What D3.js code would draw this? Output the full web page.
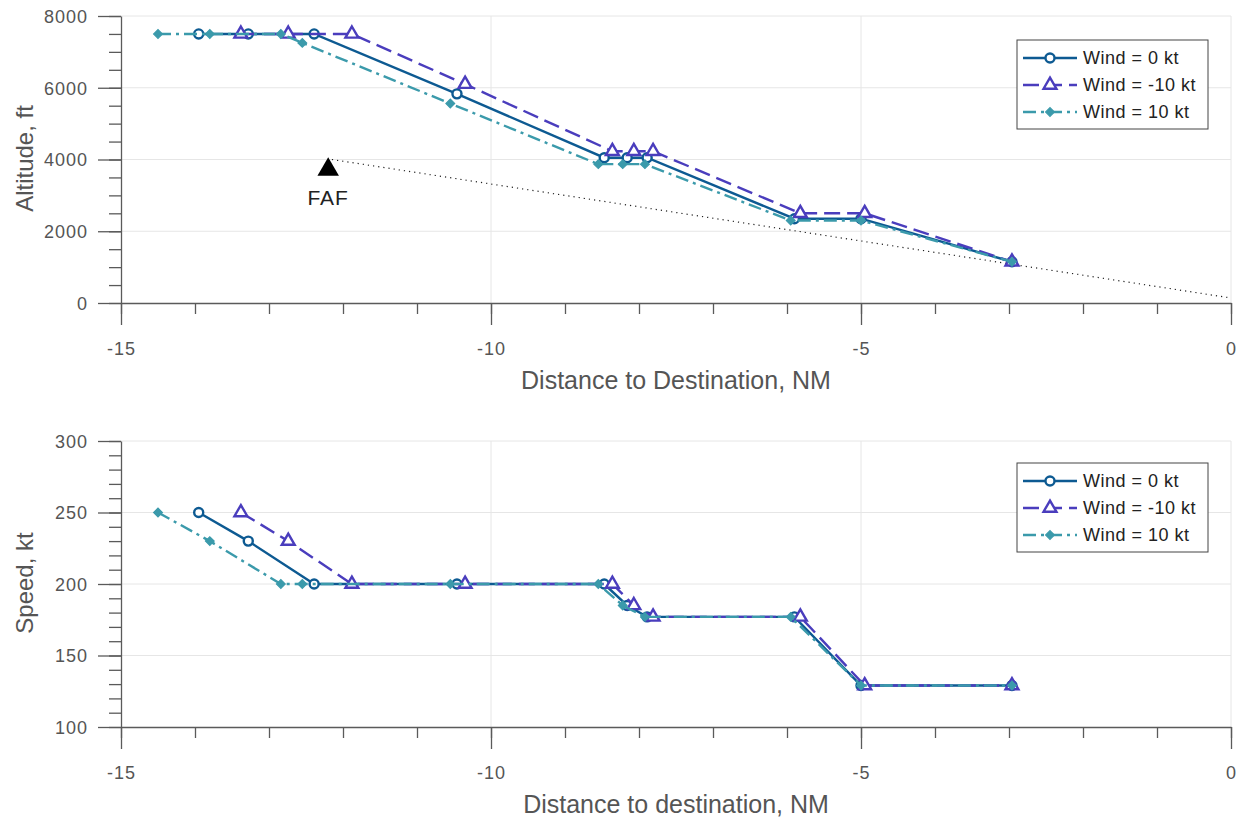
<!DOCTYPE html>
<html>
<head lang="en">
  <meta charset="UTF-8">
  <title>Altitude and speed profiles</title>
  <script src="https://cdn.jsdelivr.net/npm/d3@7"></script>
</head>
<style>
  body { margin: 0; background: #fff; }
  svg text { font-family: "Liberation Sans", Arial, sans-serif; }
  .axis path, .axis line { stroke: #5a5a5a; stroke-width: 1.3; }
  .axis text { fill: #555; font-size: 18px; letter-spacing: 1px; }
  .grid line { stroke: #e6e6e6; stroke-width: 1; }
  .title { fill: #555; }
</style>
<body>
<svg id="chart" width="1239" height="820"></svg>
<script>
  // Distance to destination, NM
  var dist0   = [-13.95, -13.28, -12.39, -10.46, -8.47, -8.16, -7.89, -5.90, -5.00, -2.96];
  var distM10 = [-13.38, -12.74, -11.88, -10.35, -8.36, -8.07, -7.81, -5.82, -4.95, -2.96];
  var dist10  = [-14.50, -13.80, -12.84, -12.55, -10.55, -8.55, -8.22, -7.92, -5.95, -5.00, -2.96];

  // Altitude, ft
  var alt0   = [7500, 7500, 7500, 5830, 4050, 4050, 4050, 2350, 2350, 1150];
  var altM10 = [7500, 7500, 7500, 6100, 4230, 4230, 4230, 2500, 2500, 1150];
  var alt10  = [7500, 7500, 7500, 7250, 5560, 3870, 3870, 3870, 2300, 2300, 1150];

  // Speed, kt
  var spd0   = [250, 230, 200, 200, 200, 185, 177, 177, 129, 129];
  var spdM10 = [250, 230, 200, 200, 200, 185, 177, 177, 129, 129];
  var spd10  = [250, 230, 200, 200, 200, 200, 185, 177, 177, 129, 129];

  var seriesNames = ['Wind = 0 kt', 'Wind = -10 kt', 'Wind = 10 kt'];
  var glidePath   = [[-12.15, 4000], [0, 140]];
  var fafPoint    = [-12.2, 3720];

  var xTicks     = [-15, -10, -5, 0];
  var altTicks   = [0, 2000, 4000, 6000, 8000];
  var speedTicks = [100, 150, 200, 250, 300];

  var styles = [
    { color: '#0d5a92', dash: null,          marker: 'circle' },
    { color: '#4a3dbd', dash: '16,7',        marker: 'triangle' },
    { color: '#3b9aab', dash: '13,5,3,5',    marker: 'diamond' }
  ];

  function zip(xs, ys) {
    return xs.map(function (d, i) { return [d, ys[i]]; });
  }

  function plain(d) { return String(d); }

  var svg = d3.select('#chart');

  var x = d3.scaleLinear().domain([-15, 0]).range([121, 1231]);

  var panels = [
    {
      y: d3.scaleLinear().domain([0, 8000]).range([303, 16]),
      ticks: altTicks, minor: d3.range(0, 8001, 500),
      series: [zip(dist0, alt0), zip(distM10, altM10), zip(dist10, alt10)],
      yTitle: 'Altitude, ft', xTitle: 'Distance to Destination, NM',
      legendTop: 40
    },
    {
      y: d3.scaleLinear().domain([100, 300]).range([727, 441]),
      ticks: speedTicks, minor: d3.range(100, 301, 10),
      series: [zip(dist0, spd0), zip(distM10, spdM10), zip(dist10, spd10)],
      yTitle: 'Speed, kt', xTitle: 'Distance to destination, NM',
      legendTop: 463
    }
  ];

  panels.forEach(drawPanel);

  function drawPanel(p, pi) {
    var y = p.y;
    var g = svg.append('g');
    var y0 = y.range()[0], y1 = y.range()[1];

    // grid
    var grid = g.append('g').attr('class', 'grid');
    grid.selectAll('.hg').data(p.ticks.slice(1)).enter().append('line')
      .attr('x1', x(-15)).attr('x2', x(0))
      .attr('y1', y).attr('y2', y);
    grid.selectAll('.vg').data(xTicks.slice(1)).enter().append('line')
      .attr('x1', x).attr('x2', x)
      .attr('y1', y0).attr('y2', y1);

    // minor ticks
    g.append('g').attr('class', 'axis')
      .attr('transform', 'translate(' + x(-15) + ',0)')
      .call(d3.axisLeft(y).tickValues(p.minor).tickSize(12).tickFormat(''))
      .call(function (a) { a.select('.domain').remove(); });
    g.append('g').attr('class', 'axis')
      .attr('transform', 'translate(0,' + y0 + ')')
      .call(d3.axisBottom(x).tickValues(d3.range(-15, 1, 1)).tickSize(11).tickFormat(''))
      .call(function (a) { a.select('.domain').remove(); });

    // major axes
    g.append('g').attr('class', 'axis')
      .attr('transform', 'translate(' + x(-15) + ',0)')
      .call(d3.axisLeft(y).tickValues(p.ticks).tickFormat(plain).tickSize(23).tickSizeOuter(0).tickPadding(10))
      .call(function (a) { a.selectAll('text').attr('dy', '0.36em'); });
    g.append('g').attr('class', 'axis')
      .attr('transform', 'translate(0,' + y0 + ')')
      .call(d3.axisBottom(x).tickValues(xTicks).tickFormat(plain).tickSize(22).tickSizeOuter(0).tickPadding(17));

    // titles
    g.append('text').attr('class', 'title')
      .attr('text-anchor', 'middle')
      .attr('font-size', 25)
      .attr('x', 676).attr('y', y0 + 86)
      .text(p.xTitle);
    g.append('text').attr('class', 'title')
      .attr('text-anchor', 'middle')
      .attr('font-size', 24)
      .attr('transform', 'translate(' + 33 + ',' + ((y0 + y1) / 2 - 1) + ') rotate(-90)')
      .text(p.yTitle);

    // glide path and FAF (altitude only)
    if (pi === 0) {
      g.append('path')
        .attr('d', d3.line().x(function (d) { return x(d[0]); }).y(function (d) { return y(d[1]); })(glidePath))
        .attr('fill', 'none').attr('stroke', '#222').attr('stroke-width', 1.2)
        .attr('stroke-dasharray', '1.2,4');
      g.append('path')
        .attr('d', d3.symbol().type(d3.symbolTriangle).size(200)())
        .attr('transform', 'translate(' + x(fafPoint[0]) + ',' + y(fafPoint[1]) + ')')
        .attr('fill', '#000');
      g.append('text')
        .attr('x', x(fafPoint[0])).attr('y', y(fafPoint[1]) + 35)
        .attr('text-anchor', 'middle')
        .attr('font-size', 21).attr('letter-spacing', 1).attr('fill', '#222')
        .text('FAF');
    }

    var line = d3.line()
      .x(function (d) { return x(d[0]); })
      .y(function (d) { return y(d[1]); });

    p.series.forEach(function (data, si) {
      var s = styles[si];
      g.append('path')
        .attr('d', line(data))
        .attr('fill', 'none')
        .attr('stroke', s.color)
        .attr('stroke-width', 2.4)
        .attr('stroke-dasharray', s.dash);
      g.selectAll('.m' + si).data(data).enter().append('path')
        .attr('d', markerPath(s.marker))
        .attr('transform', function (d) { return markerTransform(s.marker, x(d[0]), y(d[1])); })
        .call(markerStyle, s);
    });

    drawLegend(g, p.legendTop);
  }

  function markerPath(m) {
    if (m === 'circle') return d3.symbol().type(d3.symbolCircle).size(64)();
    if (m === 'triangle') return d3.symbol().type(d3.symbolTriangle).size(72)();
    return d3.symbol().type(d3.symbolSquare).size(38)();
  }

  function markerTransform(m, px, py) {
    var t = 'translate(' + px + ',' + py + ')';
    return m === 'diamond' ? t + ' rotate(45)' : t;
  }

  function markerStyle(sel, s) {
    if (s.marker === 'diamond') {
      sel.attr('fill', s.color).attr('stroke', s.color).attr('stroke-width', 1.2);
    } else {
      sel.attr('fill', '#fff').attr('stroke', s.color).attr('stroke-width', 2.4);
    }
  }

  function drawLegend(g, top) {
    var lg = g.append('g').attr('transform', 'translate(1017,' + top + ')');
    lg.append('rect')
      .attr('width', 191).attr('height', 89)
      .attr('fill', '#fff').attr('stroke', '#444').attr('stroke-width', 1);
    seriesNames.forEach(function (name, i) {
      var s = styles[i];
      var cy = 18 + i * 27;
      lg.append('line')
        .attr('x1', 6).attr('x2', 60).attr('y1', cy).attr('y2', cy)
        .attr('stroke', s.color).attr('stroke-width', 2.4)
        .attr('stroke-dasharray', s.dash);
      lg.append('path')
        .attr('d', markerPath(s.marker))
        .attr('transform', markerTransform(s.marker, 33, cy))
        .call(markerStyle, s);
      lg.append('text')
        .attr('x', 66).attr('y', cy).attr('dy', '0.36em')
        .attr('font-size', 18).attr('letter-spacing', 0.5).attr('fill', '#222')
        .text(name);
    });
  }
</script>
</body>
</html>
